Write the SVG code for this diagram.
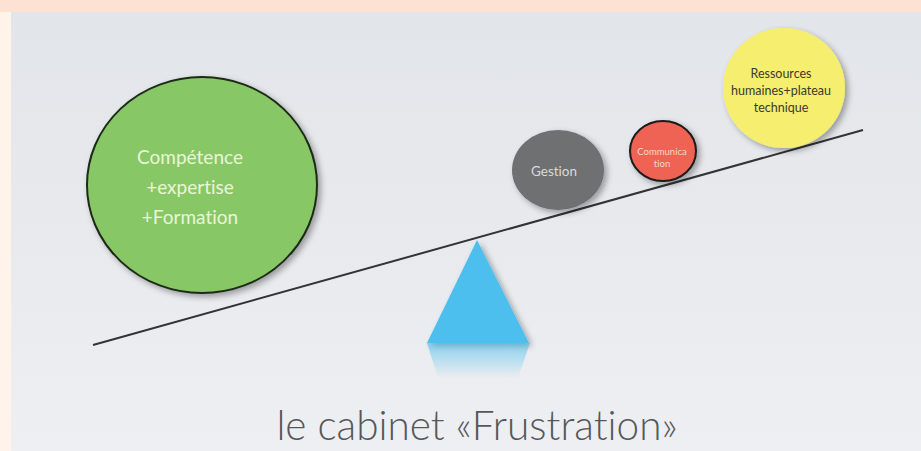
<svg xmlns="http://www.w3.org/2000/svg" width="921" height="451" viewBox="0 0 921 451">
<defs>
<linearGradient id="bg" x1="0" y1="0" x2="0" y2="1">
<stop offset="0" stop-color="#E2E5E9"/>
<stop offset="1" stop-color="#EDEFF2"/>
</linearGradient>
<linearGradient id="refl" x1="0" y1="0" x2="0" y2="1">
<stop offset="0" stop-color="#4DBFEF" stop-opacity="0.6"/>
<stop offset="1" stop-color="#4DBFEF" stop-opacity="0"/>
</linearGradient>
<filter id="sh" x="-20%" y="-20%" width="140%" height="140%">
<feGaussianBlur in="SourceAlpha" stdDeviation="3"/>
<feOffset dx="3" dy="3" result="b"/>
<feComponentTransfer><feFuncA type="linear" slope="0.35"/></feComponentTransfer>
<feMerge><feMergeNode/><feMergeNode in="SourceGraphic"/></feMerge>
</filter>
</defs>
<style>
.lbl{font-family:Lato,"Open Sans","Liberation Sans",sans-serif;text-anchor:middle;font-variant-ligatures:none}
</style>
<rect x="0" y="0" width="921" height="451" fill="#FFF3EA"/>
<rect x="11" y="12" width="910" height="439" fill="url(#bg)"/>
<rect x="0" y="0" width="921" height="12" fill="#FDE2D3"/>

<g id="connectors">
<line x1="93" y1="345" x2="863" y2="130" stroke="#333" stroke-width="2"/>
</g>

<g id="fulcrum">
<polygon points="477,240 427,343 529,343" fill="#4DBFEF" filter="url(#sh)"/>
<polygon points="427,343 530,343 518,378 438,378" fill="url(#refl)"/>
</g>

<g id="competence">
<ellipse cx="202" cy="185" rx="115" ry="108" fill="#88C766" stroke="#1E2A18" stroke-width="2" filter="url(#sh)"/>
<text class="lbl" font-size="19" fill="#EAF5D8"><tspan x="190" y="164">Compétence</tspan><tspan x="190" y="194">+expertise</tspan><tspan x="190" y="224">+Formation</tspan></text>
</g>

<g id="gestion">
<ellipse cx="558" cy="170" rx="46" ry="40" fill="#6E7071" filter="url(#sh)"/>
<text class="lbl" x="554" y="176" font-size="13.5" fill="#D9DADA">Gestion</text>
</g>

<g id="communication">
<ellipse cx="663" cy="151" rx="33" ry="30" fill="#EE6352" stroke="#1A1A1A" stroke-width="2" filter="url(#sh)"/>
<text class="lbl" font-size="9.5" fill="#F8D6CF"><tspan x="662" y="155">Communica</tspan><tspan x="662" y="167">tion</tspan></text>
</g>

<g id="ressources">
<ellipse cx="784" cy="88" rx="61" ry="60" fill="#F6EE6E" filter="url(#sh)"/>
<text class="lbl" font-size="12.5" fill="#3A3A2A"><tspan x="781" y="78">Ressources</tspan><tspan x="781" y="95">humaines+plateau</tspan><tspan x="781" y="112">technique</tspan></text>
</g>

<g id="title">
<text class="lbl" x="477" y="440" font-size="40.5" fill="#555759" font-weight="300">le cabinet «Frustration»</text>
</g>
</svg>
